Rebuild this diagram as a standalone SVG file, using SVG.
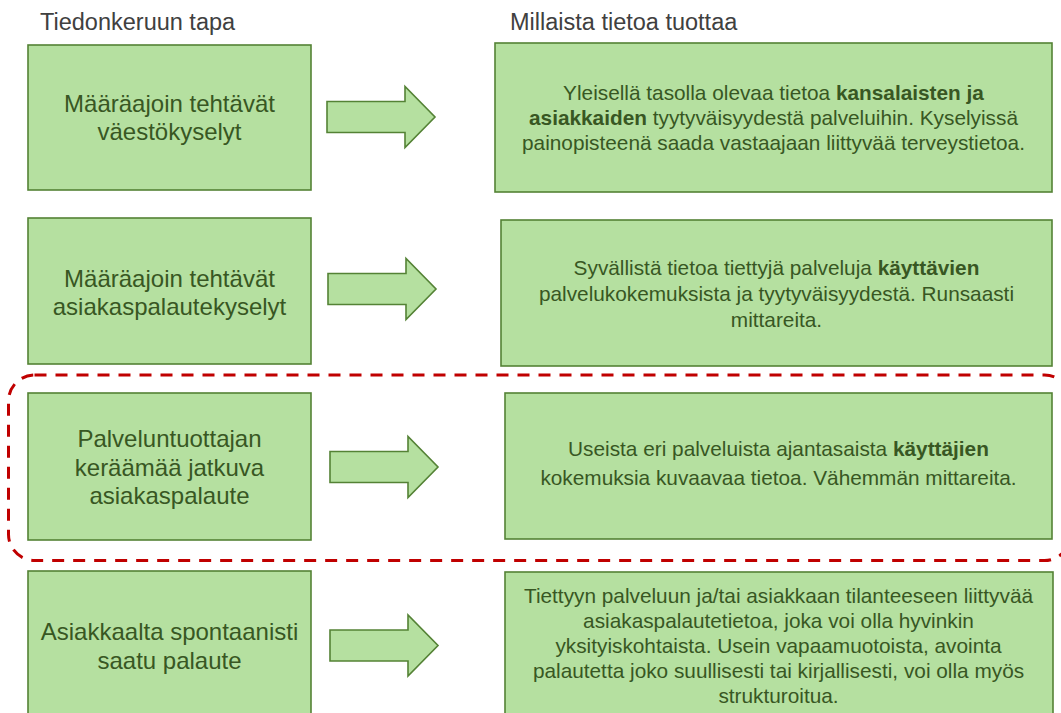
<svg xmlns="http://www.w3.org/2000/svg" xmlns:xlink="http://www.w3.org/1999/xlink" width="1061" height="713" viewBox="0 0 1061 713">
<style>
.box{fill:#B5E0A0;stroke:#548235;stroke-width:1.6}
.arrow{fill:#B5E0A0;stroke:#548235;stroke-width:1.6;stroke-linejoin:miter}
.lt{font-family:"Liberation Sans",Arial,sans-serif;font-size:24px;fill:#385723;text-anchor:middle}
.rt{font-family:"Liberation Sans",Arial,sans-serif;font-size:20.8px;fill:#385723;text-anchor:middle}
.hd{font-family:"Liberation Sans",Arial,sans-serif;font-size:23.5px;fill:#404040}
.b{font-weight:bold}
.dash{fill:none;stroke:#C00000;stroke-width:3;stroke-dasharray:12 9}
</style>
<defs>
<path id="arr" d="M0,-15.5 H78 V-30.5 L108,0 L78,30.5 V15.5 H0 Z"/>
</defs>
<rect width="1061" height="713" fill="#ffffff"/>
<g id="headers">
<text class="hd" x="40" y="30">Tiedonkeruun tapa</text>
<text class="hd" x="510" y="30">Millaista tietoa tuottaa</text>
</g>
<g id="highlight">
<rect class="dash" x="8.5" y="375" width="1062" height="185.5" rx="26" ry="26"/>
</g>
<g id="n1">
<rect class="box" x="28" y="45" width="283" height="145"/>
<text class="lt" x="169.5" y="112">Määräajoin tehtävät</text>
<text class="lt" x="169.5" y="140">väestökyselyt</text>
</g>
<g id="n2">
<rect class="box" x="28" y="218" width="283" height="146"/>
<text class="lt" x="169.5" y="287">Määräajoin tehtävät</text>
<text class="lt" x="169.5" y="315">asiakaspalautekyselyt</text>
</g>
<g id="n3">
<rect class="box" x="28" y="393" width="283" height="147"/>
<text class="lt" x="169.5" y="447">Palveluntuottajan</text>
<text class="lt" x="169.5" y="475.5">keräämää jatkuva</text>
<text class="lt" x="169.5" y="504">asiakaspalaute</text>
</g>
<g id="n4">
<rect class="box" x="28" y="571" width="283" height="150"/>
<text class="lt" x="169.5" y="640">Asiakkaalta spontaanisti</text>
<text class="lt" x="169.5" y="669">saatu palaute</text>
</g>
<g id="r1">
<rect class="box" x="495" y="43" width="557" height="149"/>
<text class="rt" x="773.5" y="100">Yleisellä tasolla olevaa  tietoa <tspan class="b">kansalaisten ja</tspan></text>
<text class="rt" x="773.5" y="125"><tspan class="b">asiakkaiden</tspan> tyytyväisyydestä  palveluihin. Kyselyissä</text>
<text class="rt" x="773.5" y="150">painopisteenä saada vastaajaan liittyvää terveystietoa.</text>
</g>
<g id="r2">
<rect class="box" x="501" y="220" width="551" height="146"/>
<text class="rt" x="776.5" y="275">Syvällistä tietoa tiettyjä palveluja <tspan class="b">käyttävien</tspan></text>
<text class="rt" x="776.5" y="301">palvelukokemuksista ja tyytyväisyydestä.  Runsaasti</text>
<text class="rt" x="776.5" y="327">mittareita.</text>
</g>
<g id="r3">
<rect class="box" x="505" y="393" width="547" height="146"/>
<text class="rt" x="778.5" y="456">Useista eri palveluista ajantasaista <tspan class="b">käyttäjien</tspan></text>
<text class="rt" x="778.5" y="485">kokemuksia kuvaavaa  tietoa. Vähemmän mittareita.</text>
</g>
<g id="r4">
<rect class="box" x="505" y="572" width="548" height="150"/>
<text class="rt" x="778.5" y="603">Tiettyyn  palveluun ja/tai asiakkaan tilanteeseen  liittyvää</text>
<text class="rt" x="778.5" y="628">asiakaspalautetietoa, joka voi  olla hyvinkin</text>
<text class="rt" x="778.5" y="653">yksityiskohtaista. Usein vapaamuotoista, avointa</text>
<text class="rt" x="778.5" y="678">palautetta joko suullisesti tai kirjallisesti, voi olla myös</text>
<text class="rt" x="778.5" y="703">strukturoitua.</text>
</g>
<g id="connectors">
<use xlink:href="#arr" class="arrow" transform="translate(327,117)"/>
<use xlink:href="#arr" class="arrow" transform="translate(328,289)"/>
<use xlink:href="#arr" class="arrow" transform="translate(330,467)"/>
<use xlink:href="#arr" class="arrow" transform="translate(330,645.5)"/>
</g>
</svg>
